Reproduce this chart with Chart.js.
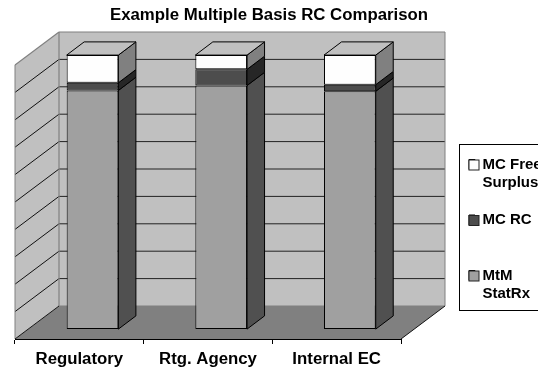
<!DOCTYPE html>
<html>
<head>
<meta charset="utf-8">
<style>
  html, body { margin: 0; padding: 0; background: #fff; overflow: hidden; }
  canvas { display: block; }
</style>
<script src="https://cdn.jsdelivr.net/npm/chart.js@4/dist/chart.umd.min.js"></script>
</head>
<body>
<canvas id="chart" width="538" height="369"></canvas>
<script>
// data (percent of total)
const categories = ["Regulatory", "Rtg. Agency", "Internal EC"];
const mtmStatRx = [87.1, 88.9, 86.8];
const mcRc = [2.8, 5.9, 2.4];
const mcFreeSurplus = [10.1, 5.2, 10.8];
const seriesNames = ["MtM StatRx", "MC RC", "MC Free Surplus"];
const legendLines = [["MtM", "StatRx"], ["MC RC", ""], ["MC Free", "Surplus"]];
const yTickStep = 10;

// look of the 3d box
const FONT = "'Liberation Sans', Arial, sans-serif";
const WALL = { dx: 44, dy: -33 };
const BAR_FRONT = { dx: 13.2, dy: -9.9 };
const BAR_DEPTH = { dx: 17.5, dy: -13.2 };
const frontColors = ["#a0a0a0", "#4d4d4d", "#fefefe"];
const sideColors = ["#505050", "#262626", "#808080"];
const topColor = "#c0c0c0";

function poly(ctx, pts, fill, stroke, lw) {
  ctx.beginPath();
  pts.forEach((p, i) => (i ? ctx.lineTo(p[0], p[1]) : ctx.moveTo(p[0], p[1])));
  ctx.closePath();
  if (fill) {
    ctx.fillStyle = fill;
    ctx.fill();
  }
  if (stroke) {
    ctx.strokeStyle = stroke;
    ctx.lineWidth = lw || 1;
    ctx.stroke();
  }
}

function line(ctx, x1, y1, x2, y2, color, lw) {
  ctx.beginPath();
  ctx.moveTo(x1, y1);
  ctx.lineTo(x2, y2);
  ctx.strokeStyle = color;
  ctx.lineWidth = lw;
  ctx.stroke();
}

const box3d = {
  id: "box3d",
  afterLayout(chart) {
    // title stays centred on the page, legend sits half off the right edge
    chart.titleBlock.left = 0;
    chart.titleBlock.right = chart.width;
    const lg = chart.legend;
    const pad = lg.options.labels.padding;
    lg.left = 469 - pad;
    lg.right = chart.width + 60;
    lg.top = 157 - pad;
    lg.bottom = chart.height;
  },
  beforeDraw(chart) {
    const { ctx, chartArea: a, scales } = chart;
    const { dx, dy } = WALL;
    ctx.save();
    // floor
    poly(ctx, [[a.left, a.bottom], [a.right, a.bottom], [a.right + dx, a.bottom + dy], [a.left + dx, a.bottom + dy]], "#808080");
    // left and back walls
    poly(ctx, [[a.left, a.top], [a.left + dx, a.top + dy], [a.left + dx, a.bottom + dy], [a.left, a.bottom]], "#c0c0c0");
    poly(ctx, [[a.left + dx, a.top + dy], [a.right + dx, a.top + dy], [a.right + dx, a.bottom + dy], [a.left + dx, a.bottom + dy]], "#c0c0c0");
    // gridlines follow the y scale round the walls
    scales.y.ticks.forEach((t) => {
      if (t.value === 0 || t.value === scales.y.max) return;
      const y = scales.y.getPixelForValue(t.value);
      line(ctx, a.left, y, a.left + dx, y + dy, "#111", 1);
      line(ctx, a.left + dx, y + dy, a.right + dx, y + dy, "#222", 1);
    });
    // wall edges
    const edge = "#808080";
    line(ctx, a.left, a.bottom, a.left, a.top, edge, 1);
    line(ctx, a.left, a.top, a.left + dx, a.top + dy, edge, 1.2);
    line(ctx, a.left + dx, a.top + dy, a.right + dx, a.top + dy, edge, 1.2);
    line(ctx, a.right + dx, a.top + dy, a.right + dx, a.bottom + dy, edge, 1);
    line(ctx, a.left + dx, a.top + dy, a.left + dx, a.bottom + dy, edge, 1.2);
    line(ctx, a.left + dx, a.bottom + dy, a.right + dx, a.bottom + dy, edge, 1.2);
    line(ctx, a.left, a.bottom, a.left + dx, a.bottom + dy, "#111", 1);
    line(ctx, a.right, a.bottom, a.right + dx, a.bottom + dy, "#111", 1);
    ctx.restore();
  },
  beforeDatasetsDraw(chart) {
    chart.ctx.save();
    chart.ctx.translate(BAR_FRONT.dx, BAR_FRONT.dy);
  },
  afterDatasetsDraw(chart) {
    const { ctx } = chart;
    const { dx, dy } = BAR_DEPTH;
    const last = chart.data.datasets.length - 1;
    chart.data.datasets.forEach((ds, i) => {
      chart.getDatasetMeta(i).data.forEach((bar) => {
        const { x, y, base, width } = bar.getProps(["x", "y", "base", "width"], true);
        const l = x - width / 2;
        const r = x + width / 2;
        poly(ctx, [[r, y], [r + dx, y + dy], [r + dx, base + dy], [r, base]], sideColors[i], "#000", 1);
        if (i === last) {
          poly(ctx, [[l, y], [r, y], [r + dx, y + dy], [l + dx, y + dy]], topColor, "#000", 1);
        }
      });
    });
    ctx.restore();
  },
  afterDraw(chart) {
    const { ctx } = chart;
    const lg = chart.legend;
    const pad = lg.options.labels.padding;
    ctx.save();
    // legend frame
    ctx.strokeStyle = "#000";
    ctx.lineWidth = 1;
    ctx.strokeRect(459.5, 144.5, 100, 166);
    // full size swatches, the native ones are kept narrow so the text sits close
    lg.legendItems.forEach((item, i) => {
      const y = lg.top + pad + i * (36 + pad) + 3;
      ctx.fillStyle = item.fillStyle;
      ctx.fillRect(469, y, 10, 10);
      ctx.strokeStyle = "#222";
      ctx.strokeRect(469, y, 10, 10);
    });
    ctx.restore();
  },
};

new Chart(document.getElementById("chart"), {
  type: "bar",
  data: {
    labels: categories,
    datasets: [mtmStatRx, mcRc, mcFreeSurplus].map((values, i) => ({
      label: seriesNames[i],
      data: values,
      backgroundColor: frontColors[i],
      borderColor: "#000",
      borderWidth: 1,
      borderSkipped: false,
      categoryPercentage: 0.402,
      barPercentage: 1,
      clip: false,
    })),
  },
  options: {
    responsive: false,
    animation: false,
    layout: { padding: { left: 15, right: 137, top: 0, bottom: 0 } },
    scales: {
      x: {
        stacked: true,
        afterFit(scale) {
          scale.height = 30;
        },
        grid: { drawOnChartArea: false, tickLength: 5, color: "#000" },
        border: { display: true, color: "#000" },
        ticks: { color: "#000", padding: 5, maxRotation: 0, font: { family: FONT, size: 16.8, weight: "bold" } },
      },
      y: {
        stacked: true,
        display: false,
        min: 0,
        max: 100,
        ticks: { stepSize: yTickStep },
      },
    },
    plugins: {
      title: {
        display: true,
        text: "Example Multiple Basis RC Comparison",
        color: "#000",
        padding: { top: 5, bottom: 39.84 },
        font: { family: FONT, size: 16.8, weight: "bold", lineHeight: 1.2 },
      },
      legend: {
        position: "chartArea",
        align: "start",
        reverse: true,
        labels: {
          boxWidth: 6,
          boxHeight: 10,
          padding: 19.5,
          color: "#000",
          font: { family: FONT, size: 15, weight: "bold", lineHeight: 1.2 },
          generateLabels(chart) {
            const items = Chart.defaults.plugins.legend.labels.generateLabels(chart);
            items.forEach((item) => {
              item.text = legendLines[item.datasetIndex];
            });
            return items;
          },
        },
      },
      tooltip: { enabled: false },
    },
  },
  plugins: [box3d],
});
</script>
</body>
</html>
